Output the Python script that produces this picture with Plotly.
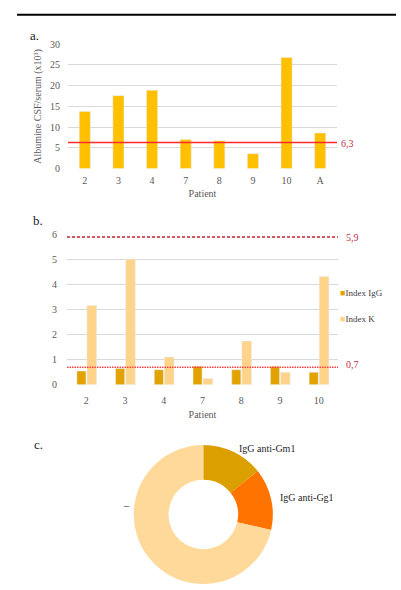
import plotly.graph_objects as go

W, H = 401, 590

# Panel a: CSF/serum albumin quotient per patient
patients_a = ["2", "3", "4", "7", "8", "9", "10", "A"]
albumin_quotient = [13.8, 17.6, 18.9, 7.0, 6.7, 3.6, 26.8, 8.6]
albumin_cutoff = 6.3
albumin_ticks = [0, 5, 10, 15, 20, 25, 30]

# Panel b: IgG and kappa indices per patient
patients_b = ["2", "3", "4", "7", "8", "9", "10"]
index_igg = [0.55, 0.65, 0.60, 0.74, 0.60, 0.73, 0.50]
index_k = [3.17, 5.02, 1.11, 0.25, 1.75, 0.50, 4.33]
k_cutoff = 5.9
igg_cutoff = 0.7
index_ticks = [0, 1, 2, 3, 4, 5, 6]

# Panel c: anti-ganglioside antibodies
antibody_labels = ["IgG anti-Gm1", "IgG anti-Gg1", "–"]
antibody_counts = [1, 1, 5]

SERIF = "Liberation Serif"
TICK_GREY = "#595959"
GRID = "#d9d9d9"
C_ALB = "#FFC000"
C_IGG = "#E2A300"
C_K = "#FFD48A"
PIE_COLORS = ["#DBA000", "#FF7400", "#FFD999"]


def px_x(x):
    return x / W


def px_y(y):
    return 1 - y / H


fig = go.Figure()

fig.add_trace(go.Bar(
    x=patients_a, y=albumin_quotient, marker_color=C_ALB, width=0.33,
    xaxis="x", yaxis="y", showlegend=False, name="Albumine",
))

fig.add_trace(go.Bar(
    x=patients_b, y=index_igg, marker_color=C_IGG, width=0.235, offset=-0.245,
    xaxis="x2", yaxis="y2", showlegend=False, name="Index IgG",
))
fig.add_trace(go.Bar(
    x=patients_b, y=index_k, marker_color=C_K, width=0.25, offset=0.015,
    xaxis="x2", yaxis="y2", showlegend=False, name="Index K",
))

fig.add_trace(go.Pie(
    labels=antibody_labels, values=antibody_counts, hole=0.5, sort=False,
    direction="clockwise", rotation=0, textinfo="none",
    marker=dict(colors=PIE_COLORS, line=dict(width=0)),
    domain=dict(x=[px_x(132.3), px_x(274.3)], y=[0, px_y(448)]),
    showlegend=False,
))

axis_font = dict(family=SERIF, size=10, color=TICK_GREY)

fig.update_layout(
    width=W, height=H,
    margin=dict(l=0, r=0, t=0, b=0),
    paper_bgcolor="white", plot_bgcolor="white",
    barmode="overlay",
    font=dict(family=SERIF, color="#404040"),
    xaxis=dict(
        domain=[px_x(68), px_x(337)], anchor="y", type="category",
        showgrid=False, showline=False, zeroline=False, ticks="",
        tickfont=axis_font, ticklabelstandoff=4,
        title=dict(text="Patient", font=axis_font, standoff=5),
    ),
    yaxis=dict(
        domain=[px_y(166), px_y(39)], anchor="x", range=[0, 30],
        tickvals=albumin_ticks, showgrid=True, gridcolor=GRID, gridwidth=1,
        zeroline=False, showline=False, ticks="", tickfont=axis_font,
        ticklabelstandoff=7,
        title=dict(text="Albumine CSF/serum (x10³)", font=axis_font, standoff=6),
    ),
    xaxis2=dict(
        domain=[px_x(67), px_x(338)], anchor="y2", type="category",
        showgrid=False, showline=False, zeroline=False, ticks="",
        tickfont=axis_font, ticklabelstandoff=8,
        title=dict(text="Patient", font=axis_font, standoff=6),
    ),
    yaxis2=dict(
        domain=[px_y(386.7), px_y(233.3)], anchor="x2", range=[0, 6],
        tickvals=index_ticks, showgrid=True, gridcolor=GRID, gridwidth=1,
        zeroline=False, showline=False, ticks="", tickfont=axis_font,
        ticklabelstandoff=9,
    ),
)

# Reference thresholds
fig.add_shape(type="line", xref="x domain", yref="y", x0=0, x1=1,
              y0=albumin_cutoff, y1=albumin_cutoff,
              line=dict(color="#FF2A2A", width=1.3))
fig.add_shape(type="line", xref="x2 domain", yref="y2", x0=0, x1=1,
              y0=k_cutoff, y1=k_cutoff,
              line=dict(color="#C8202E", width=1.5, dash="3px,2px"))
fig.add_shape(type="line", xref="x2 domain", yref="y2", x0=0, x1=1,
              y0=igg_cutoff, y1=igg_cutoff,
              line=dict(color="#FF4040", width=1.5, dash="1.5px,1px"))

# Header rule
fig.add_shape(type="line", xref="paper", yref="paper",
              x0=px_x(17), x1=px_x(396), y0=px_y(9), y1=px_y(9),
              line=dict(color="black", width=2))

CUT_RED = "#C0304A"
ann = []


def note(text, x, y, size=10, color=CUT_RED, xanchor="left", textangle=0):
    ann.append(dict(text=text, x=px_x(x), y=px_y(y), xref="paper", yref="paper",
                    showarrow=False, xanchor=xanchor, yanchor="middle",
                    textangle=textangle,
                    font=dict(family=SERIF, size=size, color=color)))


note(f"{albumin_cutoff:.1f}".replace(".", ","), 339, 140)
note(f"{k_cutoff:.1f}".replace(".", ","), 344, 236)
note(f"{igg_cutoff:.1f}".replace(".", ","), 344, 366)

# Panel letters
note("a.", 28, 30, size=13, color="#222222")
note("b.", 31, 219, size=13, color="#222222")
note("c.", 32, 448, size=13, color="#222222")

# Legend for panel b
note(f"<span style='color:{C_IGG}'>■</span>Index IgG", 338, 293, size=9, color="#404040")
note(f"<span style='color:{C_K}'>■</span>Index K", 338, 320, size=9, color="#404040")

# Donut slice labels
note(antibody_labels[0], 237, 452, size=10, color="#262626")
note(antibody_labels[1], 278, 502, size=10, color="#262626")
note(antibody_labels[2], 126, 510, size=10, color="#262626", xanchor="center")

fig.update_layout(annotations=ann)

fig.write_html("out.html")
